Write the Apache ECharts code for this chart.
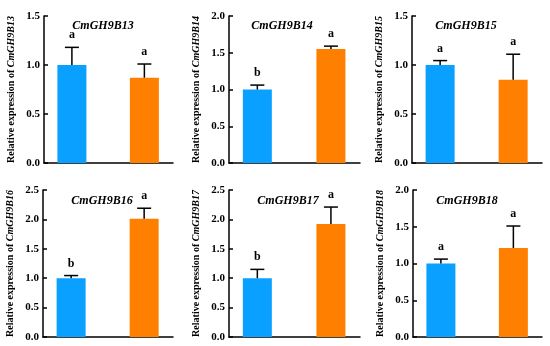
<!DOCTYPE html>
<html><head><meta charset="utf-8">
<script src="https://cdn.jsdelivr.net/npm/echarts@6/dist/echarts.min.js"></script>
<style>html,body{margin:0;padding:0;background:#fff}#c{width:550px;height:346px}</style>
</head><body><div id="c"></div>
<script>
const genes = ['CmGH9B13','CmGH9B14','CmGH9B15','CmGH9B16','CmGH9B17','CmGH9B18'];
const barIndex = [0, 1];
const means = [[1.00,0.87],[1.00,1.55],[1.00,0.85],[1.00,2.01],[1.00,1.92],[1.00,1.21]];
const sds = [[0.18,0.14],[0.06,0.04],[0.045,0.26],[0.045,0.18],[0.15,0.29],[0.06,0.30]];
const letters = [['a','a'],['b','a'],['a','a'],['b','a'],['b','a'],['a','a']];
const yMax = [1.5,2.0,1.5,2.5,2.5,2.0];
const yInterval = 0.5;
const barColors = ['#0AA0FF','#FF8000'];

const gridPos = [
  {left:44, width:129, top:16, height:147},
  {left:229, width:131, top:16, height:147},
  {left:412, width:130, top:16, height:147},
  {left:43, width:130, top:190, height:147},
  {left:229, width:131, top:190, height:147},
  {left:413, width:129, top:190, height:147}
];
const titlePos = [[98,15],[277,15],[461,15],[97,190],[283,190],[462,190]];
const FONT = '"Liberation Serif","Times New Roman",serif';

const option = {animation:false, grid:[], xAxis:[], yAxis:[], series:[], title:[]};
genes.forEach((g,i)=>{
  option.grid.push(Object.assign({containLabel:false}, gridPos[i]));
  option.title.push({text:g, left:titlePos[i][0], top:titlePos[i][1], textAlign:'center',
    textStyle:{fontFamily:FONT,fontSize:12,fontWeight:'bold',fontStyle:'italic',color:'#000'}});
  option.xAxis.push({type:'value', gridIndex:i, min:-0.385, max:1.395,
    axisLine:{show:true,onZero:false,lineStyle:{color:'#000',width:1.5}},
    axisTick:{show:false}, axisLabel:{show:false}, splitLine:{show:false}});
  option.yAxis.push({type:'value', gridIndex:i, min:0, max:yMax[i], interval:yInterval,
    name:'{n|Relative expression of }{g|'+g+'}', nameLocation:'middle', nameGap:28,
    nameTextStyle:{rich:{
      n:{fontFamily:FONT,fontSize:10,fontWeight:'bold',color:'#000'},
      g:{fontFamily:FONT,fontSize:10,fontWeight:'bold',fontStyle:'italic',color:'#000'}}},
    axisLine:{show:true,onZero:false,lineStyle:{color:'#000',width:1.5}},
    axisTick:{show:true,inside:true,length:4,lineStyle:{color:'#000',width:1.5}},
    axisLabel:{margin:4,fontFamily:FONT,fontSize:11,fontWeight:'bold',color:'#000',
      formatter:v=>v.toFixed(1)},
    splitLine:{show:false}});
  option.series.push({type:'bar', xAxisIndex:i, yAxisIndex:i, barWidth:29,
    data:barIndex.map(k=>({value:[k, means[i][k]], itemStyle:{color:barColors[k]}}))});
  option.series.push({type:'custom', xAxisIndex:i, yAxisIndex:i, z:5,
    data:barIndex.map(k=>[k, means[i][k], means[i][k]+sds[i][k]]),
    renderItem:(params, api)=>{
      const x = api.value(0), m = api.value(1), t = api.value(2);
      const p0 = api.coord([x,m]), p1 = api.coord([x,t]);
      const ls = {stroke:'#000', lineWidth:1.5};
      const d = params.dataIndex;
      return {type:'group', children:[
        {type:'line', shape:{x1:p0[0],y1:p0[1],x2:p1[0],y2:p1[1]}, style:ls},
        {type:'line', shape:{x1:p1[0]-7,y1:p1[1],x2:p1[0]+7,y2:p1[1]}, style:ls},
        {type:'text', style:{text:letters[i][d], x:p1[0], y:p1[1]-6, align:'center',
          verticalAlign:'bottom', font:'bold 12px '+FONT, fill:'#000'}}
      ]};
    }});
});
echarts.init(document.getElementById('c')).setOption(option);
</script></body></html>
